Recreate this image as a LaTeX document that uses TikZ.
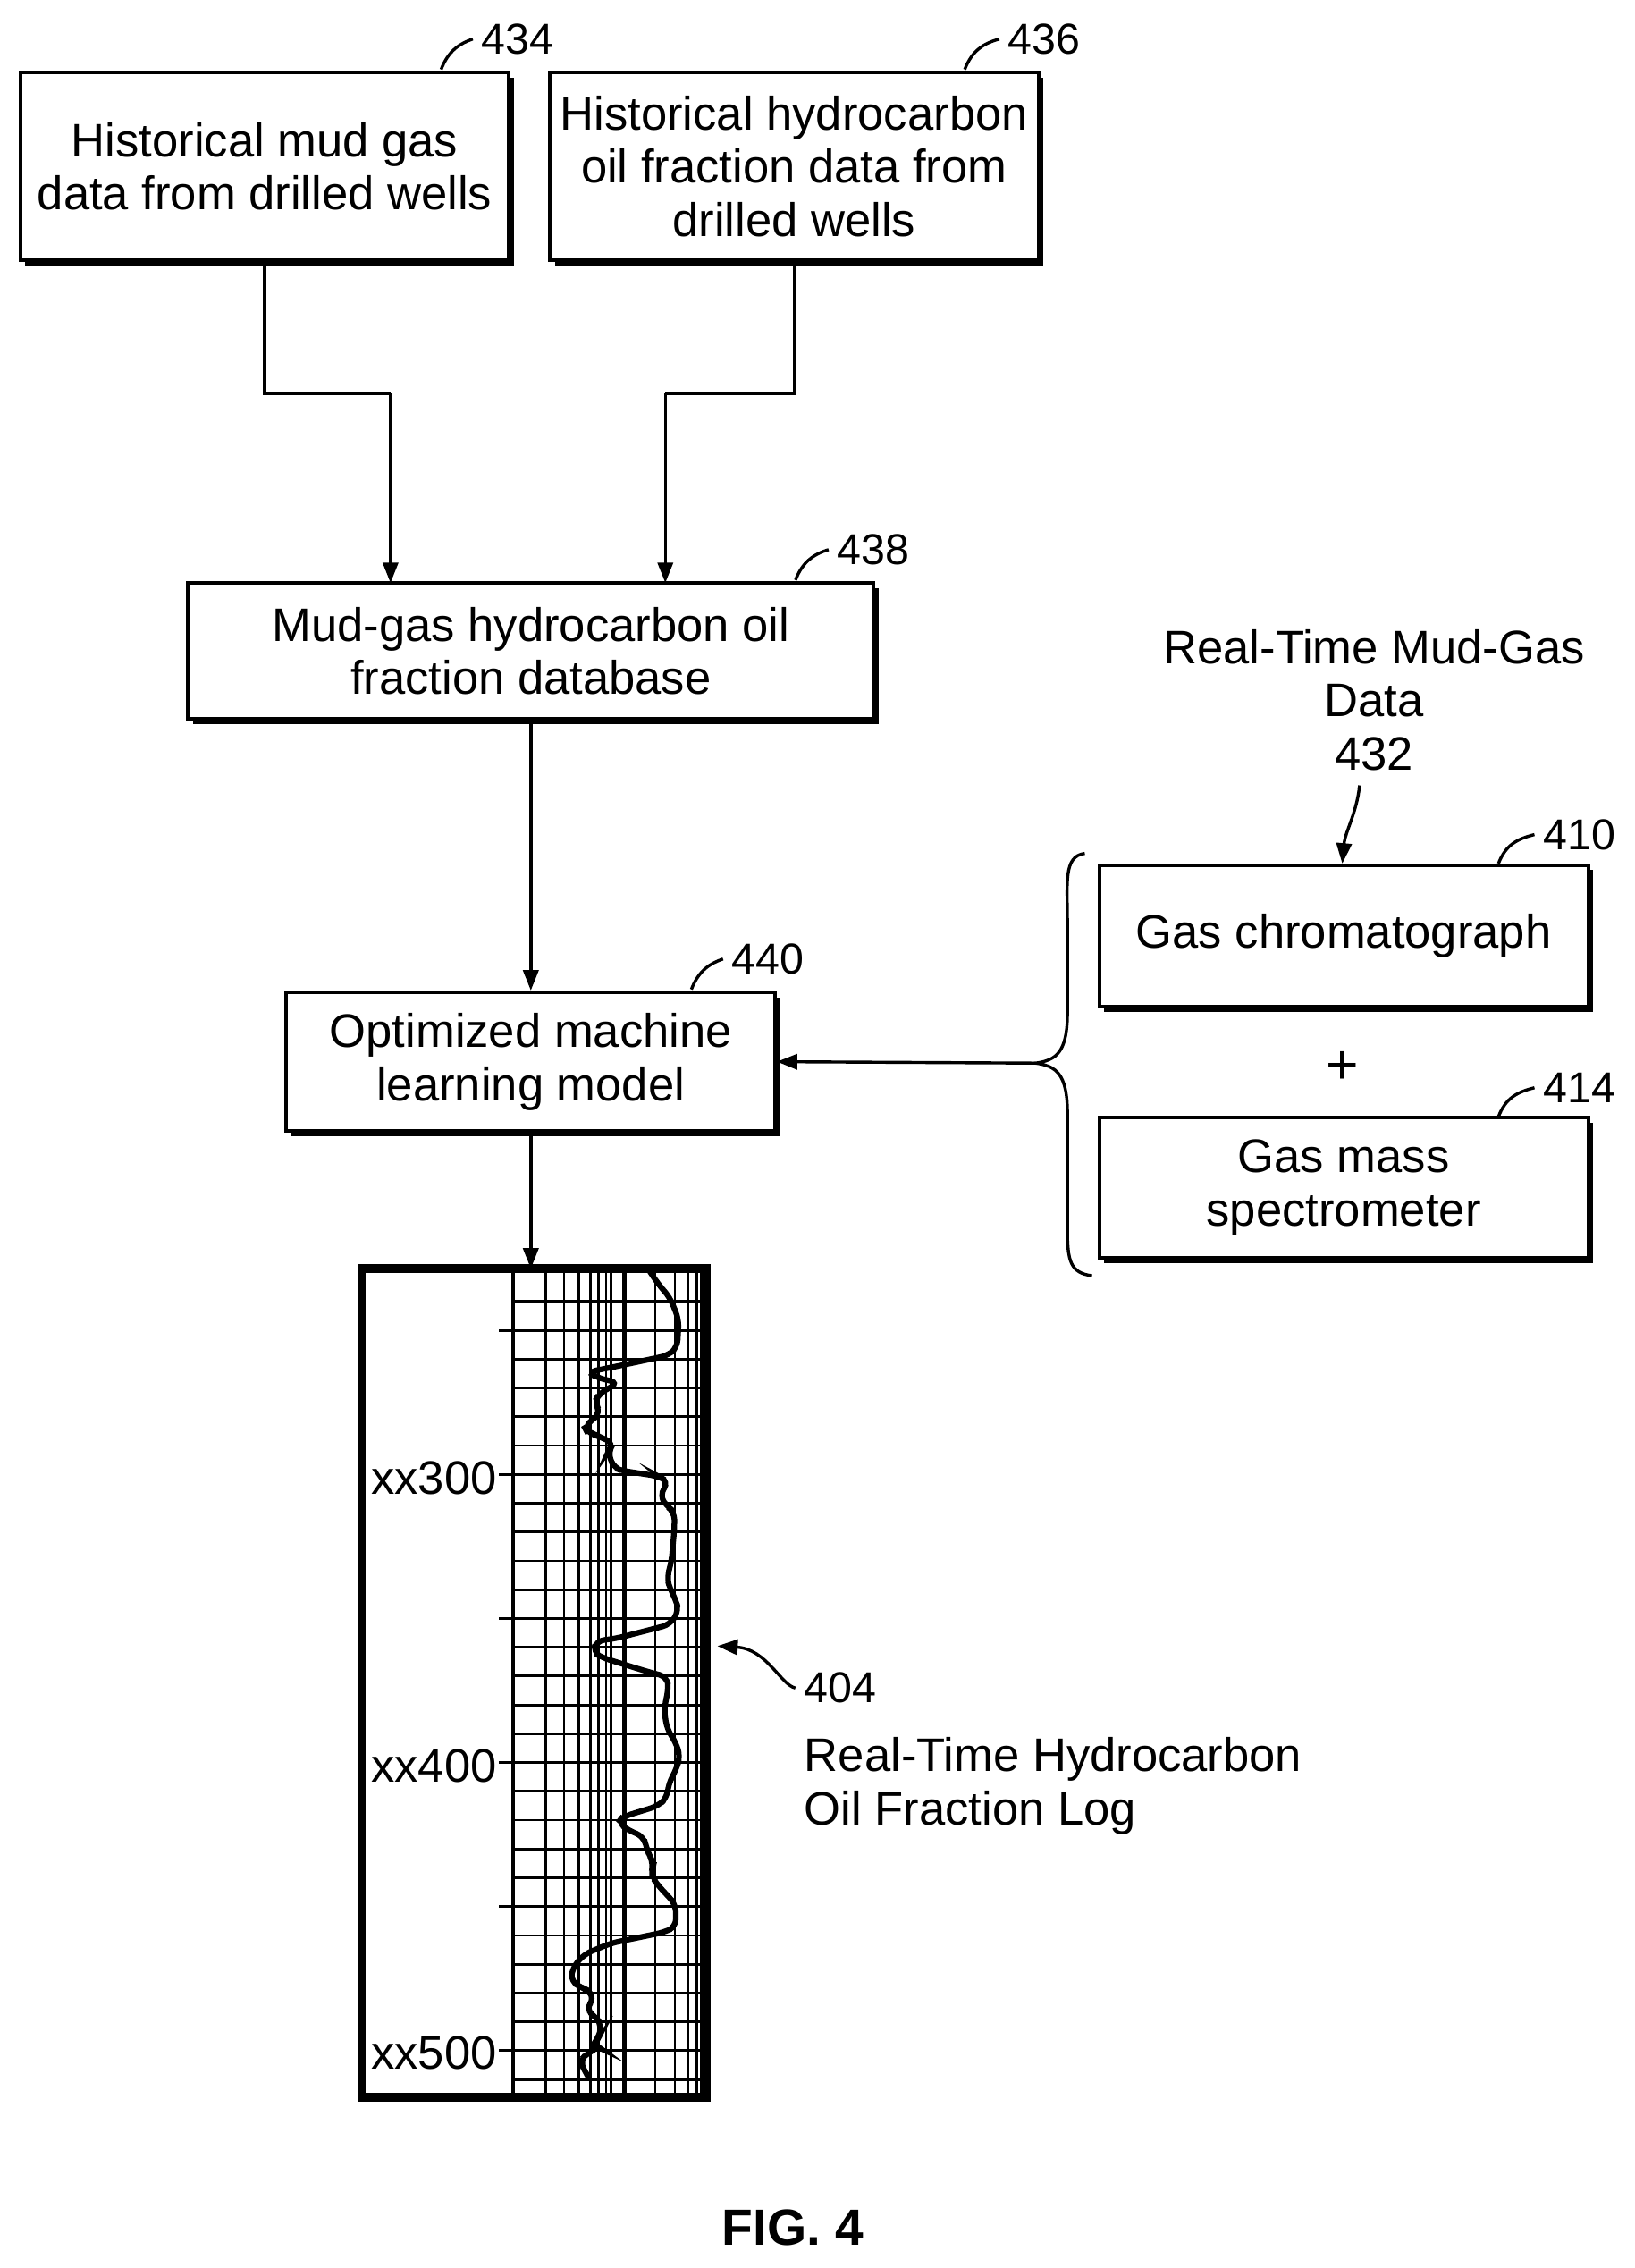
\documentclass[tikz,border=0pt]{standalone}
\usepackage{fontspec}
\setmainfont{Liberation Sans}
\usetikzlibrary{shadows,decorations.pathreplacing,arrows.meta}
\begin{document}
\begin{tikzpicture}[x=0.02cm,y=-0.02cm,
  box/.style={draw,line width=1.4pt,fill=white,align=center,inner sep=2pt,
     font=\fontsize{18.5}{21}\selectfont,
     drop shadow={shadow xshift=0.07cm,shadow yshift=-0.07cm,fill=black,opacity=1}},
  lab/.style={font=\fontsize{17}{20}\selectfont},
  txt/.style={font=\fontsize{18.5}{21}\selectfont},
  lead/.style={line width=1.2pt},
  arr/.style={line width=1.2pt,-{Triangle[length=8pt,width=6pt]}},
  grid/.style={line width=1pt}]
\useasboundingbox (0,0) rectangle (1130,1568);
% boxes
\node[box,minimum width=6.76cm,minimum height=2.6cm] (b434) at (183,115) {Historical mud gas\\data from drilled wells};
\node[box,minimum width=6.76cm,minimum height=2.6cm] (b436) at (549,115) {Historical hydrocarbon\\oil fraction data from\\drilled wells};
\node[box,minimum width=9.48cm,minimum height=1.88cm] (b438) at (367,450) {Mud-gas hydrocarbon oil\\fraction database};
\node[box,minimum width=6.76cm,minimum height=1.92cm] (b440) at (367,734) {Optimized machine\\learning model};
\node[box,minimum width=6.76cm,minimum height=1.96cm] (b410) at (929,647) {Gas chromatograph};
\node[box,minimum width=6.76cm,minimum height=1.94cm] (b414) at (929,821) {Gas mass\\spectrometer};
% reference labels
\node[lab] (l434) at (358,27) {434};
\node[lab] (l436) at (722,27) {436};
\node[lab] (l438) at (604,380) {438};
\node[lab] (l440) at (531,663) {440};
\node[lab] (l410) at (1092,577) {410};
\node[lab] (l414) at (1092,752) {414};
\draw[lead] (305,48) .. controls (310,35) and (318,30) .. (l434.west);
\draw[lead] (667,48) .. controls (672,35) and (680,30) .. (l436.west);
\draw[lead] (550,401) .. controls (555,388) and (563,383) .. (l438.west);
\draw[lead] (478,684) .. controls (483,671) and (491,666) .. (l440.west);
\draw[lead] (1036,597) .. controls (1041,584) and (1049,580) .. (l410.west);
\draw[lead] (1036,772) .. controls (1041,759) and (1049,755) .. (l414.west);
% connectors
\coordinate (j1) at (183,272);
\coordinate (j2) at (549,272);
\draw[line width=1.2pt] (b434.south) -- (j1) -| (270,272);
\draw[arr] (270,272) -- (270,403);
\draw[line width=1.2pt] (b436.south) -- (j2) -- (460,272);
\draw[arr] (460,272) -- (460,403);
\draw[arr] (b438.south) -- (b440.north);
% real time text
\node[txt,align=center] (rt) at (950,484) {Real-Time Mud-Gas\\Data\\432};
\coordinate (rta) at (928,597);
\draw[arr] (940,543) .. controls (938,562) and (930,575) .. (rta);
% plus and brace
\node[font=\fontsize{22}{22}\selectfont] (plus) at (928,738) {+};
\draw[line width=1.2pt] (750,590) .. controls (735,592) and (738,610) .. (738,640)
  -- (738,700) .. controls (738,728) and (730,733) .. (716,735)
  .. controls (730,737) and (738,742) .. (738,770) -- (738,850)
  .. controls (738,872) and (740,880) .. (755,882);
\coordinate (brace) at (716,735);
\draw[arr] (brace) -- (b440.east);
% log
\coordinate (logtop) at (367,877);
\draw[arr] (b440.south) -- (logtop);
\begin{scope}
  \foreach \k in {0,...,27}{
    \pgfmathsetmacro{\yy}{899.8+\k*19.92}
    \draw[grid] (355,\yy) -- (488,\yy);}
  \foreach \k in {1,6,11,16,21,26}{
    \pgfmathsetmacro{\yy}{899.8+\k*19.92}
    \draw[grid] (345,\yy) -- (355,\yy);}
  \foreach \xx in {377.5,390,400,408,414,419,422.6,453,466.6,475.8,482,485}{
    \draw[grid] (\xx,877) -- (\xx,1450);}
  \draw[line width=2pt] (431.8,877) -- (431.8,1450);
  \draw[line width=1.4pt] (355,877) -- (355,1450);
  \draw[line width=3.5pt] (250,877) rectangle (488,1450);
\end{scope}
\node[txt] (x300) at (300,1022) {xx300};
\node[txt] (x400) at (300,1221) {xx400};
\node[txt] (x500) at (300,1419) {xx500};
\begin{scope}[shift={(242.43,862.94)},x=0.004094cm,y=-0.0076cm]
\draw[line width=2.2pt,rounded corners=3pt] (1005,37) -- (1040,65) -- (1080,90) -- (1110,130) -- (1105,180) -- (1075,195) -- (900,215) -- (805,225) -- (830,235) -- (905,245) -- (840,265) -- (825,280) -- (845,300) -- (790,325) -- (800,335) -- (850,345) -- (890,355) -- (870,370) -- (880,385) -- (890,400) -- (920,405) -- (1040,415) -- (1075,425) -- (1045,450) -- (1070,470) -- (1095,480) -- (1095,510) -- (1090,540) -- (1085,570) -- (1070,600) -- (1080,620) -- (1100,640) -- (1110,660) -- (1080,685) -- (900,710) -- (830,715) -- (820,735) -- (850,745) -- (1000,770) -- (1070,780) -- (1075,800) -- (1060,840) -- (1070,875) -- (1100,900) -- (1115,925) -- (1100,950) -- (1075,975) -- (1070,1000) -- (1040,1015) -- (920,1035) -- (905,1045) -- (940,1060) -- (990,1070) -- (1000,1090) -- (1010,1105) -- (1025,1120) -- (1020,1130) -- (1020,1145) -- (1040,1160) -- (1075,1180) -- (1100,1195) -- (1100,1235) -- (1060,1245) -- (880,1265) -- (790,1285) -- (750,1310) -- (745,1335) -- (780,1345) -- (800,1350) -- (825,1365) -- (795,1385) -- (830,1400) -- (850,1415) -- (835,1440) -- (820,1450) -- (840,1455) -- (800,1465) -- (775,1480) -- (795,1500) -- (800,1505);
\end{scope}
% 404
\node[lab] (l404) at (581,1167) {404};
\coordinate (logarr) at (496,1138);
\draw[arr] (l404.west) .. controls (540,1165) and (530,1140) .. (logarr);
\node[txt,align=left,anchor=north west] (lt) at (550,1195) {Real-Time Hydrocarbon\\Oil Fraction Log};
\node[font=\bfseries\fontsize{20}{24}\selectfont] (fig) at (548,1540) {FIG. 4};
\end{tikzpicture}
\end{document}
